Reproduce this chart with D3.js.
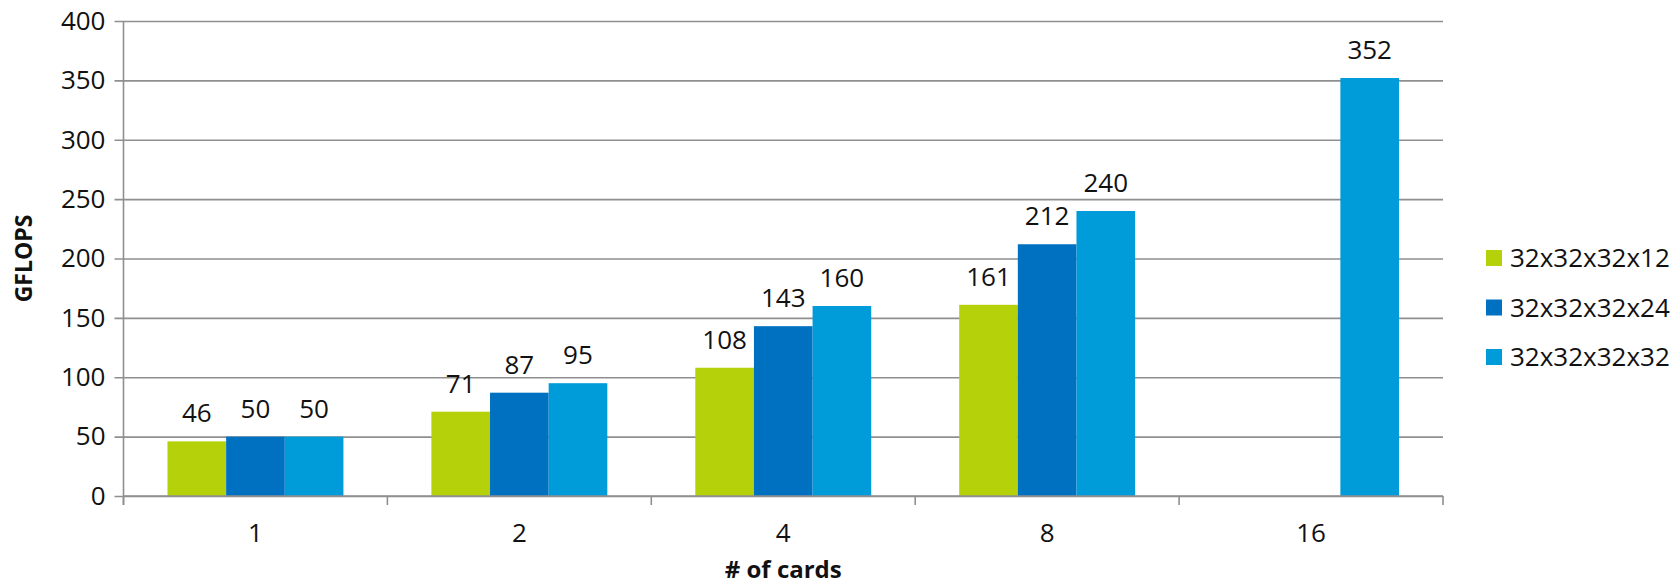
<!DOCTYPE html>
<html>
<head>
<meta charset="utf-8">
<script src="https://cdn.jsdelivr.net/npm/d3@7"></script>
<style>
  html, body { margin: 0; padding: 0; background: #fff; }
  svg text { font-family: "Open Sans", "Noto Sans", sans-serif; fill: #111; }
</style>
</head>
<body>
<svg id="chart" width="1679" height="585"></svg>
<script>
// Cards on the x axis, one bar per lattice size
const categories = ["1", "2", "4", "8", "16"];
const seriesNames = ["32x32x32x12", "32x32x32x24", "32x32x32x32"];
const seriesColors = ["#b5d10a", "#0070c0", "#009cda"];
const values12 = [46, 71, 108, 161, null];
const values24 = [50, 87, 143, 212, null];
const values32 = [50, 95, 160, 240, 352];
const yTicks = [0, 50, 100, 150, 200, 250, 300, 350, 400];

const seriesValues = [values12, values24, values32];

const svg = d3.select("#chart");
const margin = { left: 123.5, right: 236, top: 21, bottom: 89 };
const W = 1679, H = 585;
const x0 = margin.left, x1 = W - margin.right;
const yTop = margin.top, yBot = H - margin.bottom;

const x = d3.scaleBand().domain(categories).range([x0, x1]).paddingInner(0).paddingOuter(0);
const barW = x.bandwidth() / 4.5;
const xs = d3.scaleBand().domain(seriesNames).range([0, barW * 3]);
const y = d3.scaleLinear().domain([0, 400]).range([yBot, yTop]);

const gridColor = "#8f8f8f";
const fs = 26;

// horizontal gridlines with short ticks to the left
const grid = svg.append("g")
  .attr("transform", `translate(${x0},0)`)
  .call(d3.axisLeft(y).tickValues(yTicks).tickSize(-(x1 - x0)).tickPadding(18).tickFormat(d3.format("d")));
grid.select(".domain").remove();
grid.selectAll(".tick line").attr("stroke", gridColor).attr("stroke-width", 1.6).attr("x1", -9);
grid.selectAll(".tick text").attr("font-size", fs).style("fill", "#111");

// bars
const groups = svg.append("g").selectAll("g")
  .data(categories)
  .join("g")
  .attr("transform", d => `translate(${x(d) + (x.bandwidth() - barW * 3) / 2},0)`);

const barData = (c, i) => seriesNames.map((s, k) => ({ s, k, v: seriesValues[k][i] })).filter(d => d.v != null);

groups.selectAll("rect")
  .data(barData)
  .join("rect")
  .attr("x", d => xs(d.s))
  .attr("width", xs.bandwidth())
  .attr("y", d => y(d.v))
  .attr("height", d => y(0) - y(d.v))
  .attr("fill", d => seriesColors[d.k]);

// value labels above bars
groups.selectAll("text.val")
  .data(barData)
  .join("text")
  .attr("class", "val")
  .attr("x", d => xs(d.s) + xs.bandwidth() / 2)
  .attr("y", d => y(d.v) - 19)
  .attr("text-anchor", "middle")
  .attr("font-size", fs)
  .text(d => d.v);

// x axis: baseline, boundary ticks between categories
const bounds = categories.map(c => x(c)).concat([x1]);
svg.append("line")
  .attr("x1", x0).attr("x2", x1).attr("y1", yBot).attr("y2", yBot)
  .attr("stroke", gridColor).attr("stroke-width", 1.6);
svg.append("line")
  .attr("x1", x0).attr("x2", x0).attr("y1", yTop).attr("y2", yBot + 9)
  .attr("stroke", gridColor).attr("stroke-width", 1.6);
svg.append("g").selectAll("line")
  .data(bounds)
  .join("line")
  .attr("x1", d => d).attr("x2", d => d)
  .attr("y1", yBot).attr("y2", yBot + 9)
  .attr("stroke", gridColor).attr("stroke-width", 1.6);

svg.append("g").selectAll("text")
  .data(categories)
  .join("text")
  .attr("x", d => x(d) + x.bandwidth() / 2)
  .attr("y", yBot + 46)
  .attr("text-anchor", "middle")
  .attr("font-size", fs)
  .text(d => d);

// axis titles
svg.append("text")
  .attr("x", (x0 + x1) / 2)
  .attr("y", 578)
  .attr("text-anchor", "middle")
  .attr("font-size", 24)
  .attr("font-weight", "bold")
  .text("# of cards");

svg.append("text")
  .attr("transform", `translate(32,${(yTop + yBot) / 2}) rotate(-90)`)
  .attr("text-anchor", "middle")
  .attr("font-size", 23)
  .attr("font-weight", "bold")
  .text("GFLOPS");

// legend
const legend = svg.append("g").attr("transform", "translate(1486,250)");
const li = legend.selectAll("g")
  .data(seriesNames)
  .join("g")
  .attr("transform", (d, i) => `translate(0,${i * 49.5})`);
li.append("rect").attr("width", 16).attr("height", 16).attr("fill", (d, i) => seriesColors[i]);
li.append("text").attr("x", 24).attr("y", 17).attr("font-size", fs).text(d => d);
</script>
</body>
</html>
